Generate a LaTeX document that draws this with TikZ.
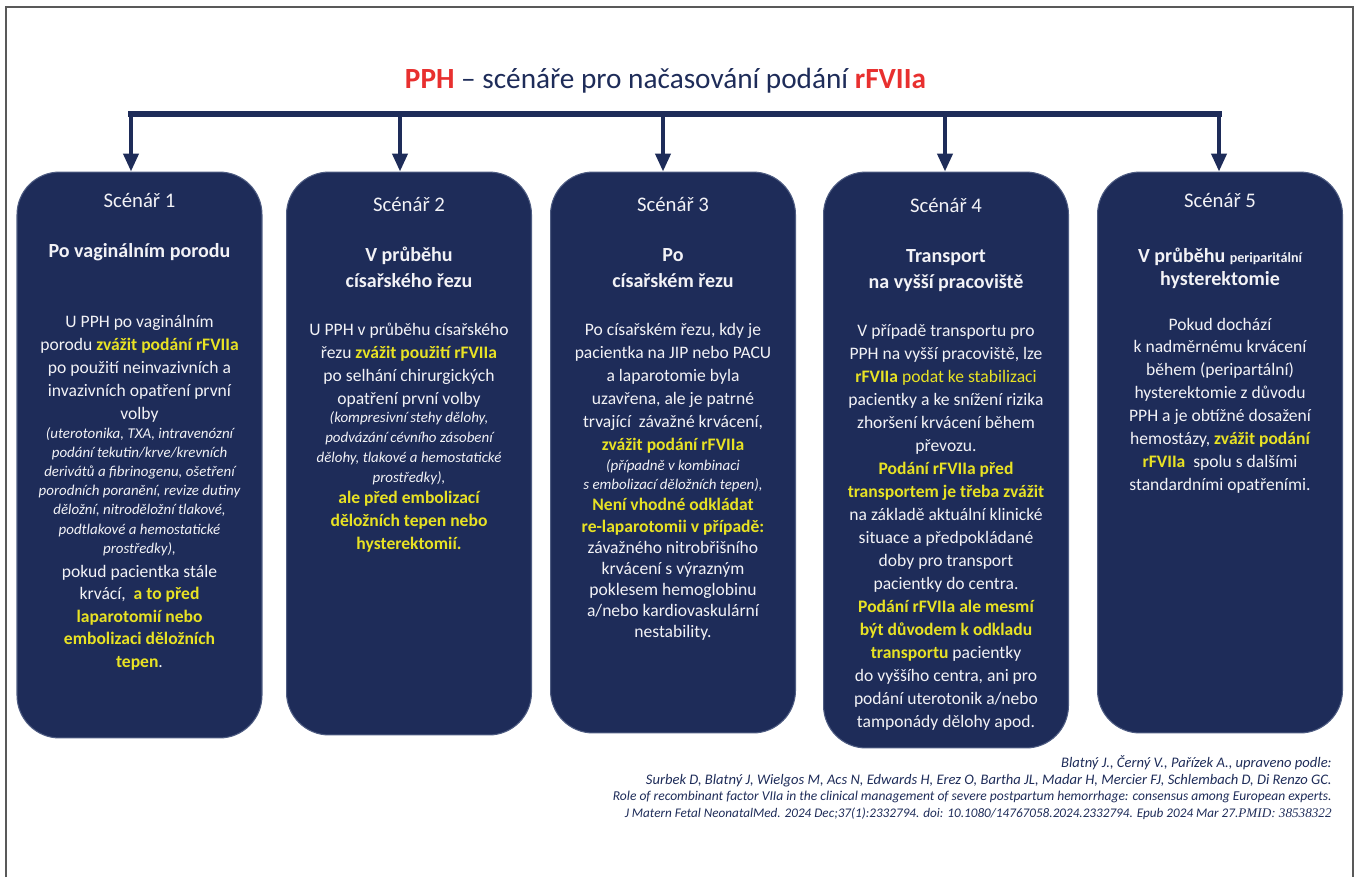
\documentclass[tikz,border=0pt]{standalone}
\usepackage{fontspec}
\setmainfont{Carlito}
\newfontfamily\tms{Liberation Serif}
\usepackage{tikz}
\usetikzlibrary{arrows.meta}

\definecolor{navy}{RGB}{30,44,89}
\definecolor{navyedge}{RGB}{78,92,130}
\definecolor{hilite}{RGB}{232,226,36}
\definecolor{alarm}{RGB}{232,48,47}
\definecolor{paper}{RGB}{242,242,246}

\newcommand{\ylw}[1]{{\bfseries\color{hilite}#1}}

\tikzset{
  scen/.style={draw=navyedge, line width=0.6pt, fill=navy, rounded corners=0.85cm,
    minimum width=4.9cm, inner sep=0pt},
  hdr/.style={anchor=base, inner sep=0pt, text=paper, font=\fontsize{11.8}{13}\selectfont},
  ttl/.style={anchor=base, inner sep=0pt, text=paper, font=\bfseries\fontsize{11.4}{13}\selectfont},
  body/.style={anchor=base, inner sep=0pt, text=paper, font=\fontsize{10}{12}\selectfont},
  note/.style={anchor=base, inner sep=0pt, text=paper, font=\itshape\fontsize{8.5}{10}\selectfont},
  hot/.style={anchor=base, inner sep=0pt, text=hilite, font=\bfseries\fontsize{10}{12}\selectfont},
  cite/.style={anchor=base east, inner sep=0pt, text=navy, font=\itshape\fontsize{8.3}{9}\selectfont},
  bar/.style={navy, line width=3.4pt, line cap=rect},
  arr/.style={navy, line width=2.3pt, -{Triangle[length=10.2pt, width=8.5pt]}},
}

\begin{document}
\begin{tikzpicture}[x=0.02cm, y=-0.02cm]
\useasboundingbox (0,0) rectangle (1355,877);
% frame
\draw[black!65, line width=1.2pt] (6,877) -- (6,7) -- (1353,7) -- (1353,877);

% title
\node[anchor=base, inner sep=0pt, text=navy, font=\fontsize{16.65}{19}\selectfont] (title) at (665.5,88)
  {{\bfseries\color{alarm}PPH} -- scénáře pro načasování podání {\bfseries\color{alarm}rFVIIa}};

% boxes
\node[scen, minimum height=11.32cm] (s1) at (139.5,455) {};
\node[scen, minimum height=11.26cm] (s2) at (409,453.5) {};
\node[scen, minimum height=11.22cm] (s3) at (673,452.5) {};
\node[scen, minimum height=11.52cm] (s4) at (946,460) {};
\node[scen, minimum height=11.22cm] (s5) at (1220,452.5) {};

% bar and arrows
\coordinate (k1) at (131,114);
\coordinate (k2) at (400,114);
\coordinate (k3) at (663,114);
\coordinate (k4) at (945,114);
\coordinate (k5) at (1219,114);
\draw[bar] (k1) -- (k5);
\foreach \n in {1,...,5}
  \draw[arr] (k\n) -- (k\n |- s\n.north);

% Scenario 1
\node[hdr] (h1) at (139.5,207) {Scénář 1};
\node[ttl] (t1) at (139.5,257) {Po vaginálním porodu};
\foreach \txt [count=\i from 0] in {{U PPH po vaginálním},{porodu \ylw{zvážit podání rFVIIa}},
    {po použití neinvazivních a},{invazivních opatření první},{volby}}
  \node[body] (p1a\i) at (139.5,{327+23*\i}) {\txt};
\foreach \txt [count=\i from 0] in {{(uterotonika, TXA, intravenózní},{podání tekutin/krve/krevních},
    {derivátů a fibrinogenu, ošetření},{porodních poranění, revize dutiny},
    {děložní, nitroděložní tlakové,},{podtlakové a hemostatické},{prostředky),}}
  \node[note] (p1b\i) at (139.5,{438+19.2*\i}) {\txt};
\foreach \txt [count=\i from 0] in {{pokud pacientka stále},{krvácí, \ \ylw{a to před}},
    {\ylw{laparotomií nebo}},{\ylw{embolizaci děložních}},{\ylw{tepen}.}}
  \node[body] (p1c\i) at (139.5,{577+22.5*\i}) {\txt};

% Scenario 2
\node[hdr] (h2) at (409,211) {Scénář 2};
\node[ttl] (t2a) at (409,261) {V průběhu};
\node[ttl] (t2b) at (409,287) {císařského řezu};
\foreach \txt [count=\i from 0] in {{U PPH v průběhu císařského},{řezu \ylw{zvážit použití rFVIIa}},
    {po selhání chirurgických},{opatření první volby}}
  \node[body] (p2a\i) at (409,{335+23*\i}) {\txt};
\foreach \txt [count=\i from 0] in {{(kompresivní stehy dělohy,},{podvázání cévního zásobení},
    {dělohy, tlakové a hemostatické},{prostředky),}}
  \node[note] (p2b\i) at (409,{422+20*\i}) {\txt};
\foreach \txt [count=\i from 0] in {{ale před embolizací},{děložních tepen nebo},{hysterektomií.}}
  \node[hot] (p2c\i) at (409,{503+23*\i}) {\txt};

% Scenario 3
\node[hdr] (h3) at (673,211) {Scénář 3};
\node[ttl] (t3a) at (673,261) {Po};
\node[ttl] (t3b) at (673,287) {císařském řezu};
\foreach \txt [count=\i from 0] in {{Po císařském řezu, kdy je},{pacientka na JIP nebo PACU},
    {a laparotomie byla},{uzavřena, ale je patrné},{trvající \ závažné krvácení,},
    {\ylw{zvážit podání rFVIIa}}}
  \node[body] (p3a\i) at (673,{335+23*\i}) {\txt};
\foreach \txt [count=\i from 0] in {{(případně v kombinaci},{s embolizací děložních tepen),}}
  \node[note] (p3b\i) at (673,{470+19*\i}) {\txt};
\foreach \txt [count=\i from 0] in {{Není vhodné odkládat},{re-laparotomii v případě:}}
  \node[hot] (p3c\i) at (673,{510+22*\i}) {\txt};
\foreach \txt [count=\i from 0] in {{závažného nitrobřišního},{krvácení s výrazným},
    {poklesem hemoglobinu},{a/nebo kardiovaskulární},{nestability.}}
  \node[body] (p3d\i) at (673,{553+21*\i}) {\txt};

% Scenario 4
\node[hdr] (h4) at (946,212) {Scénář 4};
\node[ttl] (t4a) at (946,262) {Transport};
\node[ttl] (t4b) at (946,288) {na vyšší pracoviště};
\foreach \txt [count=\i from 0] in {{V případě transportu pro},{PPH na vyšší pracoviště, lze},
    {\ylw{rFVIIa} {\color{hilite}podat ke stabilizaci}},{pacientky a ke snížení rizika},
    {zhoršení krvácení během},{převozu.},{\ylw{Podání rFVIIa před}},
    {\ylw{transportem je třeba zvážit}},{na základě aktuální klinické},
    {situace a předpokládané},{doby pro transport},{pacientky do centra.},
    {\ylw{Podání rFVIIa ale mesmí}},{\ylw{být důvodem k odkladu}},
    {\ylw{transportu} pacientky},{do vyššího centra, ani pro},
    {podání uterotonik a/nebo},{tamponády dělohy apod.}}
  \node[body] (p4\i) at (946,{336+23*\i}) {\txt};

% Scenario 5
\node[hdr] (h5) at (1220,207) {Scénář 5};
\node[ttl] (t5a) at (1220,262) {V průběhu {\fontsize{8}{10}\selectfont periparitální}};
\node[ttl] (t5b) at (1220,285) {hysterektomie};
\foreach \txt [count=\i from 0] in {{Pokud dochází},{k nadměrnému krvácení},
    {během (peripartální)},{hysterektomie z důvodu},{PPH a je obtížné dosažení},
    {hemostázy, \ylw{zvážit podání}},{\ylw{rFVIIa} \ spolu s dalšími},
    {standardními opatřeními.}}
  \node[body] (p5\i) at (1220,{330+22.9*\i}) {\txt};

% source
\node[cite] (c1) at (1332,767) {Blatný J., Černý V., Pařízek A., upraveno podle:};
\node[cite] (c2) at (1332,784) {Surbek D, Blatný J, Wielgos M, Acs N, Edwards H, Erez O, Bartha JL, Madar H, Mercier FJ, Schlembach D, Di Renzo GC.};
\node[cite, font=\itshape\fontsize{7.7}{9}\selectfont] (c3) at (1332,800.5) {Role of recombinant factor VIIa in the clinical management of severe postpartum hemorrhage: consensus among European experts.};
\node[cite, font=\itshape\fontsize{7.5}{9}\selectfont] (c4) at (1332,817) {J Matern Fetal NeonatalMed. 2024 Dec;37(1):2332794. doi: 10.1080/14767058.2024.2332794. Epub 2024 Mar 27.{\tms PMID: 38538322}};
\end{tikzpicture}
\end{document}
